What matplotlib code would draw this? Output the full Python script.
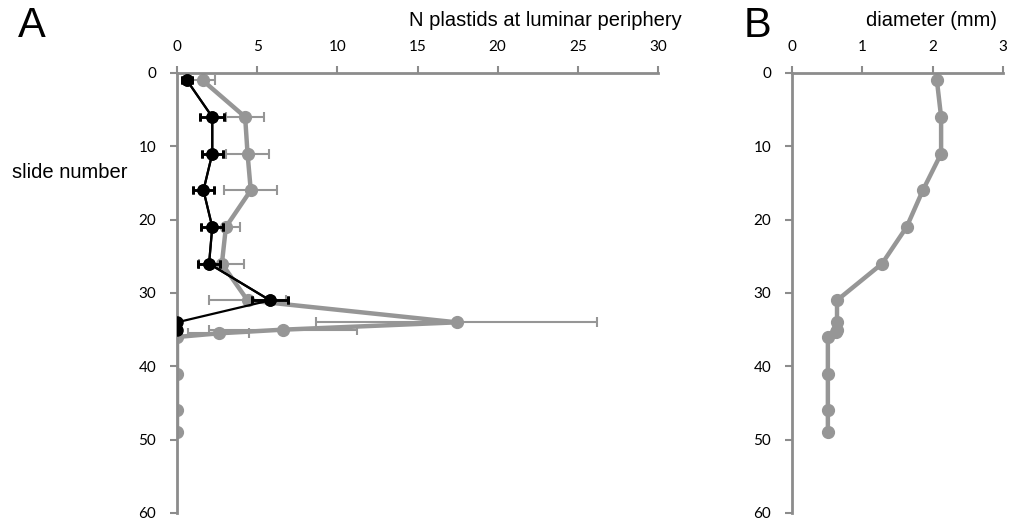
import numpy as np
import matplotlib.pyplot as plt

plt.rcParams['font.family'] = ['Lato', 'DejaVu Sans']

# panel A, black series (mean +- error)
slide_blk = [1, 6, 11, 16, 21, 26, 31, 34, 35]
n_blk = [0.62, 2.2, 2.2, 1.65, 2.2, 2.0, 5.8, 0, 0]
err_blk = [0.3, 0.75, 0.65, 0.65, 0.7, 0.7, 1.1, 0, 0]

# panel A, grey series
slide_gry = [1, 6, 11, 16, 21, 26, 31, 34, 35, 35.5, 36, 41, 46, 49]
n_gry = [1.6, 4.25, 4.4, 4.6, 3.05, 2.8, 4.4, 17.45, 6.6, 2.6, 0, 0, 0, 0]
err_gry = [0.8, 1.2, 1.35, 1.65, 0.9, 1.4, 2.4, 8.75, 4.6, 1.9, 0, 0, 0, 0]

# panel B, diameter
slide_d = [1, 6, 11, 16, 21, 26, 31, 34, 35, 35.3, 36, 41, 46, 49]
diam = [2.06, 2.12, 2.12, 1.86, 1.63, 1.28, 0.64, 0.64, 0.64, 0.62, 0.51, 0.51, 0.51, 0.51]

ax_col = '#8c8c8c'
gry = '#969696'
lab_font = ['Liberation Sans', 'DejaVu Sans']

fig = plt.figure(figsize=(10.14, 5.26), dpi=100)
axA = fig.add_axes([177/1014, 1-513/526, (658-177)/1014, (513-73)/526])
axB = fig.add_axes([792/1014, 1-513/526, (1003-792)/1014, (513-73)/526])

axA.errorbar(n_blk, slide_blk, xerr=err_blk, color='black', lw=1.6, marker='o', ms=8,
             ecolor='black', elinewidth=1.8, capsize=3, capthick=2, zorder=3)
axA.errorbar(n_gry, slide_gry, xerr=err_gry, color=gry, lw=3.2, marker='o', ms=8.5,
             ecolor=gry, elinewidth=1.5, capsize=3.5, capthick=1.5, zorder=2)
# black series redrawn above the grey one except where grey covers it near 36
axA.errorbar(n_blk[:7], slide_blk[:7], xerr=err_blk[:7], color='black', lw=1.6, marker='o', ms=8,
             ecolor='black', elinewidth=1.8, capsize=3, capthick=2, zorder=4)
axB.plot(diam, slide_d, color=gry, lw=3.2, marker='o', ms=8.5)

for ax, xmax, xt in [(axA, 30, np.arange(0, 31, 5)), (axB, 3, np.arange(0, 4, 1))]:
    ax.set_xlim(0, xmax)
    ax.set_ylim(60, 0)
    ax.set_xticks(xt)
    ax.set_yticks(np.arange(0, 61, 10))
    ax.xaxis.tick_top()
    for s in ['right', 'bottom']:
        ax.spines[s].set_visible(False)
    for s in ['top', 'left']:
        ax.spines[s].set_color(ax_col)
        ax.spines[s].set_linewidth(2)
    ax.tick_params(axis='both', color=ax_col, width=1.5, length=5, labelsize=11)
    ax.tick_params(axis='x', pad=9)
    ax.tick_params(axis='y', pad=10)
    ax.patch.set_alpha(0)

fig.text(409/1014, 1-20/526, 'N plastids at luminar periphery', fontsize=14.5, ha='left',
         va='center', family=lab_font)
fig.text(931/1014, 1-20/526, 'diameter (mm)', fontsize=14.5, ha='center', va='center', family=lab_font)
fig.text(70/1014, 1-173/526, 'slide number', fontsize=14.5, ha='center', va='center', family=lab_font)
fig.text(18/1014, 1-26/526, 'A', fontsize=30, ha='left', va='center', family=lab_font)
fig.text(744/1014, 1-26/526, 'B', fontsize=30, ha='left', va='center', family=lab_font)

fig.savefig('out.png', dpi=100)
